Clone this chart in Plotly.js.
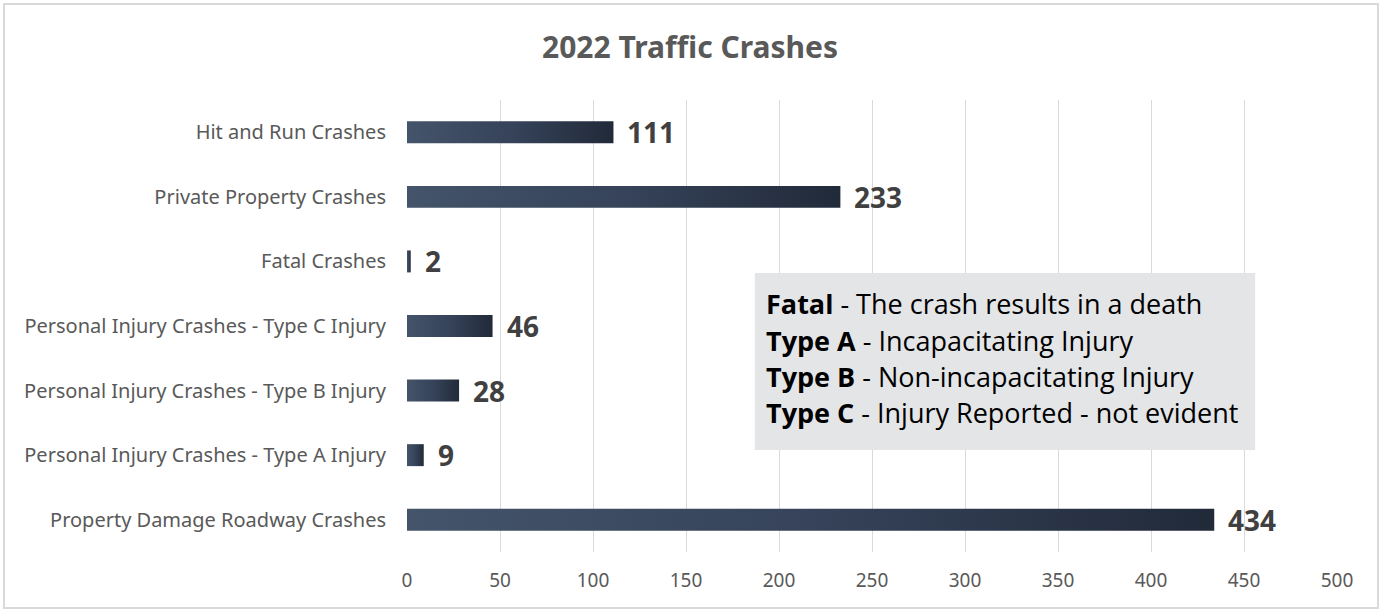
<!DOCTYPE html>
<html>
<head>
<meta charset="utf-8">
<script src="https://cdn.plot.ly/plotly-3.0.1.min.js"></script>
<style>
  html, body { margin: 0; padding: 0; background: #ffffff; }
  #wrap { position: relative; width: 1380px; height: 612px; }
  #chart { width: 1380px; height: 612px; }
  #frame { position: absolute; left: 3px; top: 3px; width: 1372px; height: 602px; border: 2px solid #d9d9d9; pointer-events: none; }
</style>
</head>
<body>
<div id="wrap">
  <div id="chart"></div>
  <div id="frame"></div>
</div>
<script>
// Categories, top to bottom as shown
const categories = [
  "Hit and Run Crashes",
  "Private Property Crashes",
  "Fatal Crashes",
  "Personal Injury Crashes - Type C Injury",
  "Personal Injury Crashes - Type B Injury",
  "Personal Injury Crashes - Type A Injury",
  "Property Damage Roadway Crashes"
];
const crashCounts = [111, 233, 2, 46, 28, 9, 434];
const xTickValues = [0, 50, 100, 150, 200, 250, 300, 350, 400, 450, 500];
const chartTitle = "2022 Traffic Crashes";
const definitionTerms = ["Fatal", "Type A", "Type B", "Type C"];
const definitionTexts = [
  "The crash results in a death",
  "Incapacitating Injury",
  "Non-incapacitating Injury",
  "Injury Reported - not evident"
];

const labelFont = "Noto Sans, Open Sans, sans-serif";

const trace = {
  type: "bar",
  orientation: "h",
  y: categories,
  x: crashCounts,
  marker: { color: "#33405a", line: { width: 0 } },
  hoverinfo: "skip"
};

// value labels
const valueAnnotations = categories.map((c, i) => ({
  x: crashCounts[i], y: c, xref: "x", yref: "y",
  text: String(crashCounts[i]),
  showarrow: false, xanchor: "left", yanchor: "middle",
  xshift: 12,
  font: { family: labelFont, size: 28, color: "#404040", weight: "bold" }
}));

// definition box lines
const lineYs = [0.5487, 0.469, 0.389, 0.3097];
const defAnnotations = definitionTerms.map((t, i) => ({
  x: 0.3835, y: lineYs[i], xref: "paper", yref: "paper",
  xanchor: "left", yanchor: "middle", showarrow: false, align: "left",
  text: "<b>" + t + "</b> - " + definitionTexts[i],
  font: { family: "Open Sans, Noto Sans, sans-serif", size: 27, color: "#000000" }
}));

const layout = {
  width: 1380, height: 612,
  margin: { l: 407, r: 43, t: 100, b: 60, pad: 0 },
  paper_bgcolor: "#ffffff", plot_bgcolor: "#ffffff",
  showlegend: false,
  bargap: 0.66,
  title: {
    text: chartTitle,
    x: 0.5, xref: "container", y: 0.923, yref: "container", xanchor: "center", yanchor: "middle",
    font: { family: labelFont, size: 30, color: "#595959", weight: "bold" }
  },
  xaxis: {
    range: [0, 500],
    tickmode: "array", tickvals: xTickValues,
    showgrid: true, gridcolor: "#d9d9d9", gridwidth: 1,
    zeroline: false, showline: false, ticks: "",
    ticklabelstandoff: 15,
    tickfont: { family: labelFont, size: 19, color: "#595959" },
    fixedrange: true
  },
  yaxis: {
    type: "category",
    autorange: "reversed",
    showgrid: false, zeroline: false, showline: false, ticks: "",
    ticklabelstandoff: 20,
    tickfont: { family: labelFont, size: 20, color: "#595959" },
    fixedrange: true
  },
  shapes: [{
    type: "rect", xref: "paper", yref: "paper",
    x0: 0.374, x1: 0.912, y0: 0.2257, y1: 0.617,
    fillcolor: "#e4e5e7", line: { width: 0 }, layer: "above"
  }],
  annotations: valueAnnotations.concat(defAnnotations)
};

Plotly.newPlot("chart", [trace], layout, { staticPlot: true, displayModeBar: false }).then(gd => {
  const svg = gd.querySelector("svg.main-svg");
  let defs = svg.querySelector("defs");
  if (!defs) { defs = document.createElementNS("http://www.w3.org/2000/svg", "defs"); svg.insertBefore(defs, svg.firstChild); }
  const ns = "http://www.w3.org/2000/svg";
  const grad = document.createElementNS(ns, "linearGradient");
  grad.setAttribute("id", "barGrad");
  grad.setAttribute("x1", "0"); grad.setAttribute("y1", "0");
  grad.setAttribute("x2", "1"); grad.setAttribute("y2", "0");
  [["0", "#44546a"], ["0.5", "#36435a"], ["1", "#212a39"]].forEach(([o, c]) => {
    const s = document.createElementNS(ns, "stop");
    s.setAttribute("offset", o); s.setAttribute("stop-color", c);
    grad.appendChild(s);
  });
  defs.appendChild(grad);
  gd.querySelectorAll(".barlayer .point path").forEach(p => { p.style.fill = "url(#barGrad)"; });
});
</script>
</body>
</html>
